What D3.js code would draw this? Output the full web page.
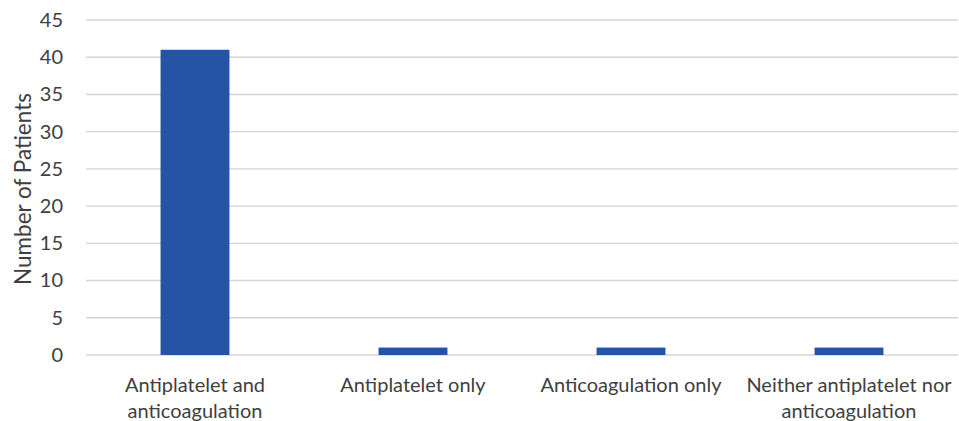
<!DOCTYPE html>
<html><head><meta charset="utf-8">
<script src="https://cdn.jsdelivr.net/npm/d3@7"></script>
<style>html,body{margin:0;padding:0;background:#fff}svg{display:block}</style>
</head><body>
<script>
const categories = [["Antiplatelet and", "anticoagulation"], ["Antiplatelet only"], ["Anticoagulation only"], ["Neither antiplatelet nor", "anticoagulation"]];
const values = [41, 1, 1, 1];
const yTicks = [0, 5, 10, 15, 20, 25, 30, 35, 40, 45];
const yTitle = "Number of Patients";

const W = 959, H = 421;
const m = {left: 86, right: 1, top: 20, bottom: 66};
const font = "Lato, 'Open Sans', sans-serif";
const fs = 20;
const svg = d3.select("body").append("svg").attr("width", W).attr("height", H);

const x = d3.scaleBand().domain(d3.range(values.length)).range([m.left, W - m.right]).paddingInner(0.684).paddingOuter(0.342);
const y = d3.scaleLinear().domain([0, 45]).range([H - m.bottom, m.top]);

// gridlines
svg.append("g").selectAll("line").data(yTicks).join("line")
  .attr("x1", m.left).attr("x2", W - m.right)
  .attr("y1", d => y(d)).attr("y2", d => y(d))
  .attr("stroke", "#d6d3d3").attr("stroke-width", 1.4);

// y axis labels
const yAxis = d3.axisLeft(y).tickValues(yTicks).tickSize(0).tickPadding(0);
const gy = svg.append("g").attr("transform", `translate(63,0)`).call(yAxis);
gy.select(".domain").remove();
gy.selectAll("text").attr("font-family", font).attr("font-size", fs).attr("fill", "#404040");

// bars
svg.append("g").selectAll("rect").data(values).join("rect")
  .attr("x", (d, i) => x(i)).attr("width", x.bandwidth())
  .attr("y", d => y(d)).attr("height", d => y(0) - y(d))
  .attr("fill", "#2553a5");

// x labels
const gx = svg.append("g");
categories.forEach((lines, i) => {
  const t = gx.append("text").attr("text-anchor", "middle")
    .attr("font-family", font).attr("font-size", fs).attr("fill", "#404040");
  lines.forEach((ln, j) => {
    t.append("tspan").attr("x", x(i) + x.bandwidth() / 2).attr("y", 392 + j * 26).text(ln);
  });
});

// y title
svg.append("text").attr("transform", `translate(31,189) rotate(-90)`)
  .attr("text-anchor", "middle").attr("font-family", font).attr("font-size", 22.5)
  .attr("fill", "#404040").text(yTitle);
</script>
</body></html>
